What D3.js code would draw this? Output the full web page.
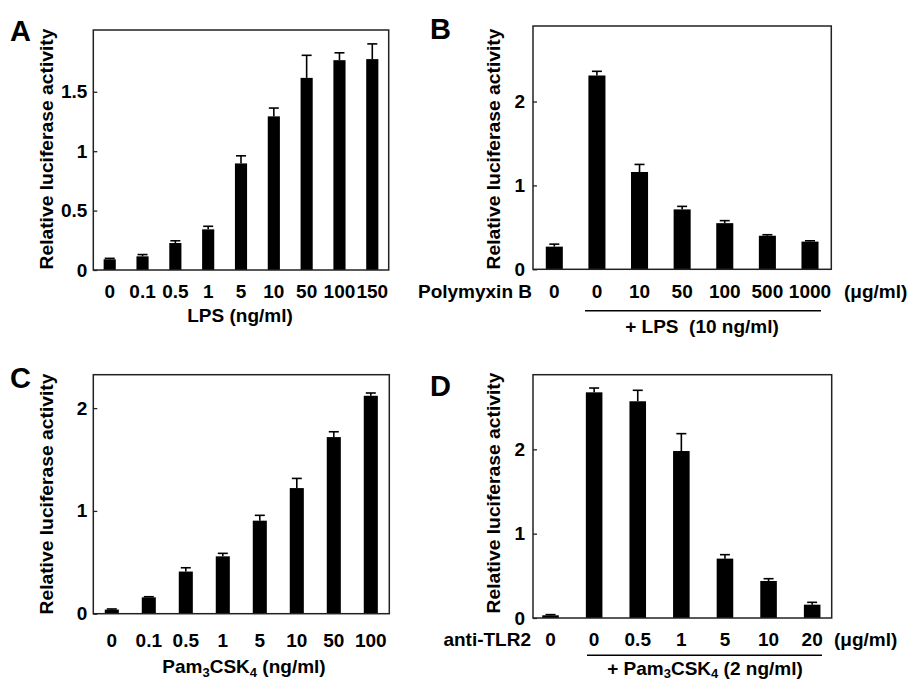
<!DOCTYPE html>
<html>
<head>
<meta charset="utf-8">
<script src="https://cdn.jsdelivr.net/npm/d3@7"></script>
<style>
  body { margin: 0; background: #fff; }
  svg { display: block; }
  text { font-family: "Liberation Sans", Arial, Helvetica, sans-serif; font-weight: bold; fill: #000; }
</style>
</head>
<body>
<div id="chart"></div>
<script>
// panel A - LPS dose response
var lpsDoses = ["0", "0.1", "0.5", "1", "5", "10", "50", "100", "150"];
var lpsMeans = [0.09, 0.115, 0.227, 0.342, 0.897, 1.293, 1.617, 1.766, 1.775];
var lpsErrors = [0.008, 0.015, 0.019, 0.026, 0.064, 0.07, 0.19, 0.062, 0.128];
var lpsTicks = [0, 0.5, 1, 1.5];

// panel B - polymyxin B + LPS
var pmxDoses = ["0", "0", "10", "50", "100", "500", "1000"];
var pmxMeans = [0.27, 2.31, 1.16, 0.714, 0.55, 0.40, 0.33];
var pmxErrors = [0.03, 0.05, 0.09, 0.036, 0.03, 0.012, 0.01];
var pmxTicks = [0, 1, 2];

// panel C - Pam3CSK4 dose response
var pamDoses = ["0", "0.1", "0.5", "1", "5", "10", "50", "100"];
var pamMeans = [0.04, 0.159, 0.41, 0.558, 0.905, 1.222, 1.718, 2.12];
var pamErrors = [0.006, 0.006, 0.037, 0.029, 0.052, 0.094, 0.052, 0.027];
var pamTicks = [0, 1, 2];

// panel D - anti-TLR2 + Pam3CSK4
var tlrDoses = ["0", "0", "0.5", "1", "5", "10", "20"];
var tlrMeans = [0.032, 2.676, 2.57, 1.98, 0.704, 0.439, 0.158];
var tlrErrors = [0.008, 0.051, 0.13, 0.206, 0.047, 0.027, 0.028];
var tlrTicks = [0, 1, 2];

var width = 908, height = 684;
var fs = 19;

var svg = d3.select("#chart")
    .append("svg")
    .attr("width", width)
    .attr("height", height)
    .attr("viewBox", "0 0 " + width + " " + height)

function drawPanel(p){

    var n = p.doses.length;

    var x = d3.scaleBand()
        .domain(d3.range(n))
        .range([p.x0 + p.shift, p.x1 + p.shift])
        .paddingInner(p.padIn)
        .paddingOuter(p.padOut)

    var y = d3.scaleLinear()
        .domain([0, p.ymax])
        .range([p.y1, p.y0])

    var g = svg.append("g").attr("class", "panel")

    // bars
    g.selectAll(".bar")
        .data(p.means).enter().append("rect")
        .attr("class", "bar")
        .attr("x", function(d, i){ return x(i); })
        .attr("width", x.bandwidth())
        .attr("y", function(d){ return y(d); })
        .attr("height", function(d){ return y(0) - y(d); })
        .attr("fill", "#000")

    // error bars (upper only)
    var cap = 5;
    var eb = g.selectAll(".err")
        .data(p.means).enter().append("g")
        .attr("class", "err")
        .attr("stroke", "#000")
        .attr("stroke-width", 1.6)
    eb.append("line")
        .attr("x1", function(d, i){ return x(i) + x.bandwidth() / 2; })
        .attr("x2", function(d, i){ return x(i) + x.bandwidth() / 2; })
        .attr("y1", function(d){ return y(d); })
        .attr("y2", function(d, i){ return y(d + p.errors[i]); })
    eb.append("line")
        .attr("x1", function(d, i){ return x(i) + x.bandwidth() / 2 - cap; })
        .attr("x2", function(d, i){ return x(i) + x.bandwidth() / 2 + cap; })
        .attr("y1", function(d, i){ return y(d + p.errors[i]); })
        .attr("y2", function(d, i){ return y(d + p.errors[i]); })

    // frame
    g.append("rect")
        .attr("x", p.x0)
        .attr("y", p.y0)
        .attr("width", p.x1 - p.x0)
        .attr("height", p.y1 - p.y0)
        .attr("fill", "none")
        .attr("stroke", "#222")
        .attr("stroke-width", 1.5)

    // y axis, ticks pointing in
    var yAxis = g.append("g")
        .attr("transform", "translate(" + p.x0 + ",0)")
        .call(d3.axisLeft(y).tickValues(p.ticks).tickSizeInner(-4).tickSizeOuter(0)
            .tickPadding(p.tickPad).tickFormat(d3.format("~g")))
    yAxis.select(".domain").remove()
    yAxis.selectAll("line").attr("stroke", "#222").attr("stroke-width", 1.3)
    yAxis.selectAll("text")
        .attr("font-size", fs)
        .attr("font-family", null)

    // x labels
    var xAxis = g.append("g")
        .attr("transform", "translate(0," + p.y1 + ")")
        .call(d3.axisBottom(x).tickSize(0).tickFormat(function(i){ return p.doses[i]; }))
    xAxis.select(".domain").remove()
    xAxis.selectAll("text")
        .attr("y", p.labelY - p.y1)
        .attr("dy", null)
        .attr("font-size", fs)
        .attr("font-family", null)

    // y title
    svg.append("text")
        .attr("transform", "translate(" + p.titleX + "," + p.titleY + ") rotate(-90)")
        .attr("text-anchor", "middle")
        .attr("font-size", 18.5)
        .attr("textLength", 241)
        .attr("lengthAdjust", "spacingAndGlyphs")
        .text("Relative luciferase activity")

    // panel letter
    svg.append("text")
        .attr("x", p.letterX)
        .attr("y", p.letterY)
        .attr("font-size", 29)
        .text(p.letter)

    return x;
}

// A
drawPanel({letter: "A", letterX: 10, letterY: 41,
    doses: lpsDoses, means: lpsMeans, errors: lpsErrors, ticks: lpsTicks,
    x0: 93.3, x1: 388.7, y0: 30, y1: 270, ymax: 2.02, shift: 0,
    padIn: 0.63, padOut: 0.315, tickPad: 6, labelY: 298,
    titleX: 53, titleY: 149})

svg.append("text")
    .attr("x", 240).attr("y", 322)
    .attr("text-anchor", "middle")
    .attr("font-size", fs)
    .text("LPS (ng/ml)")

// B
drawPanel({letter: "B", letterX: 430, letterY: 39,
    doses: pmxDoses, means: pmxMeans, errors: pmxErrors, ticks: pmxTicks,
    x0: 533, x1: 831.3, y0: 26, y1: 269.3, ymax: 2.9, shift: 0,
    padIn: 0.6, padOut: 0.3, tickPad: 8, labelY: 298,
    titleX: 500, titleY: 149})

svg.append("text")
    .attr("x", 532).attr("y", 298)
    .attr("text-anchor", "end")
    .attr("font-size", fs)
    .text("Polymyxin B")
svg.append("text")
    .attr("x", 844).attr("y", 298)
    .attr("font-size", fs)
    .text("(μg/ml)")
svg.append("line")
    .attr("x1", 585).attr("x2", 821)
    .attr("y1", 310.7).attr("y2", 310.7)
    .attr("stroke", "#000").attr("stroke-width", 1.6)
svg.append("text")
    .attr("x", 702).attr("y", 333)
    .attr("text-anchor", "middle")
    .attr("font-size", fs)
    .attr("xml:space", "preserve")
    .text("+ LPS  (10 ng/ml)")

// C
drawPanel({letter: "C", letterX: 10, letterY: 388,
    doses: pamDoses, means: pamMeans, errors: pamErrors, ticks: pamTicks,
    x0: 93.3, x1: 389.3, y0: 374.7, y1: 613.7, ymax: 2.325, shift: 0,
    padIn: 0.62, padOut: 0.31, tickPad: 6, labelY: 647,
    titleX: 53, titleY: 494})

var pamTitle = svg.append("text")
    .attr("x", 244).attr("y", 673)
    .attr("text-anchor", "middle")
    .attr("font-size", fs)
pamTitle.append("tspan").text("Pam")
pamTitle.append("tspan").attr("font-size", 13).attr("dy", 4).text("3")
pamTitle.append("tspan").attr("dy", -4).text("CSK")
pamTitle.append("tspan").attr("font-size", 13).attr("dy", 4).text("4")
pamTitle.append("tspan").attr("dy", -4).text(" (ng/ml)")

// D
drawPanel({letter: "D", letterX: 430, letterY: 396,
    doses: tlrDoses, means: tlrMeans, errors: tlrErrors, ticks: tlrTicks,
    x0: 533, x1: 831.7, y0: 374.7, y1: 618, ymax: 2.885, shift: -1,
    padIn: 0.62, padOut: 0.235, tickPad: 8, labelY: 646,
    titleX: 500, titleY: 493})

svg.append("text")
    .attr("x", 531).attr("y", 646)
    .attr("text-anchor", "end")
    .attr("font-size", fs)
    .text("anti-TLR2")
svg.append("text")
    .attr("x", 834).attr("y", 646)
    .attr("font-size", fs)
    .text("(μg/ml)")
svg.append("line")
    .attr("x1", 587).attr("x2", 822)
    .attr("y1", 655.3).attr("y2", 655.3)
    .attr("stroke", "#000").attr("stroke-width", 1.6)

var pamD = svg.append("text")
    .attr("x", 705).attr("y", 675)
    .attr("text-anchor", "middle")
    .attr("font-size", fs)
pamD.append("tspan").text("+ Pam")
pamD.append("tspan").attr("font-size", 13).attr("dy", 3).text("3")
pamD.append("tspan").attr("dy", -3).text("CSK")
pamD.append("tspan").attr("font-size", 13).attr("dy", 3).text("4")
pamD.append("tspan").attr("dy", -3).text(" (2 ng/ml)")
</script>
</body>
</html>
